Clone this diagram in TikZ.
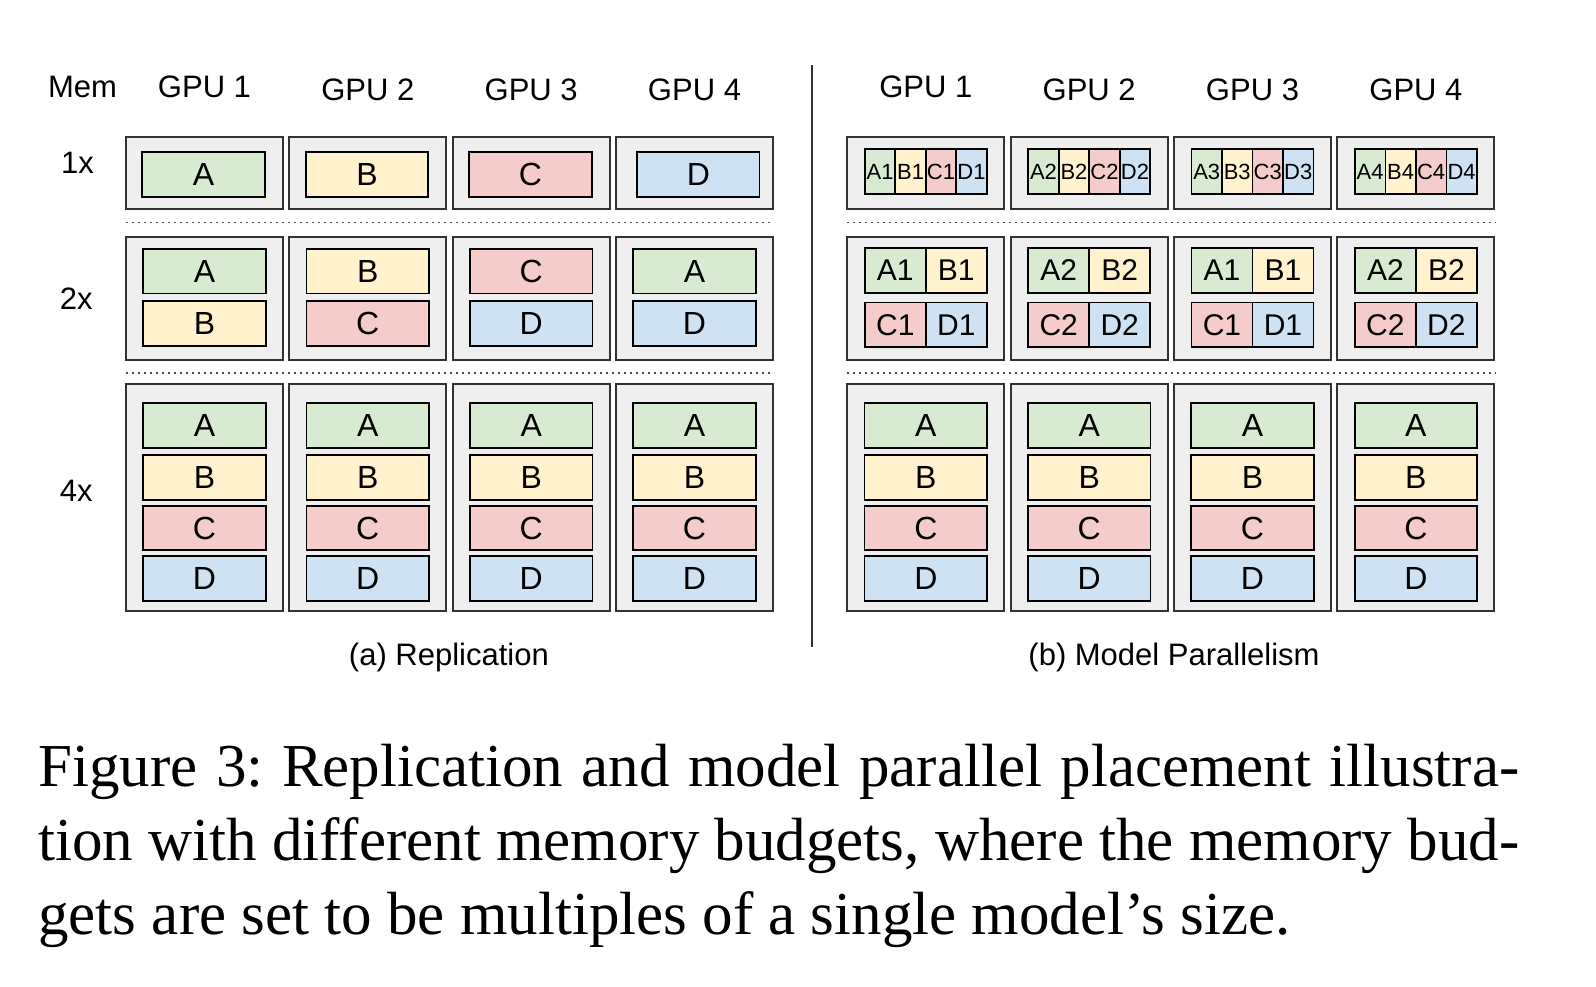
\documentclass[tikz,border=0pt]{standalone}
\usepackage{fontspec}
\setmainfont{Liberation Serif}
\setsansfont{Liberation Sans}
\usetikzlibrary{positioning}
\definecolor{partgreen}{HTML}{D9EAD3}
\definecolor{partyellow}{HTML}{FFF2CC}
\definecolor{partred}{HTML}{F4CCCC}
\definecolor{partblue}{HTML}{CFE2F3}
\definecolor{gpugray}{HTML}{EFEFEF}
\tikzset{
        hdr/.style={font=\sffamily\fontsize{15.5}{18}\selectfont, inner sep=0pt},
        gpu/.style={draw=black!80, fill=gpugray, line width=1pt, minimum width=78.5pt, inner sep=0pt},
        part/.style={draw=black, line width=0.9pt, minimum width=61.25pt, minimum height=22.25pt, inner sep=0pt, font=\sffamily\fontsize{16}{18}\selectfont},
        half/.style={part, minimum width=30.5pt, font=\sffamily\fontsize{15}{18}\selectfont},
        shard/.style={part, minimum width=15.25pt, minimum height=22.5pt, font=\sffamily\fontsize{11}{12}\selectfont},
        pA/.style={fill=partgreen},
        pB/.style={fill=partyellow},
        pC/.style={fill=partred},
        pD/.style={fill=partblue},
        budget/.style={draw=black!70, line width=0.8pt, dash pattern=on 1pt off 2pt},
        divider/.style={draw=black!80, line width=1pt}
          }
\begin{document}
\frenchspacing
\begin{tikzpicture}[x=0.5pt, y=-0.5pt]
        \useasboundingbox (0,0) rectangle (1596,986);
        % column heads
        \node[hdr] (mem) at (82.5,86.5) {Mem};
        \foreach \g/\x/\y in {1/204.5/86.5, 2/367.8/89.6, 3/531.2/89.6, 4/694.5/89.6}
          \node[hdr] (ahead\g) at (\x,\y) {GPU \g};
        \foreach \g/\x/\y in {1/925.8/86.5, 2/1089.2/89.6, 3/1252.5/89.6, 4/1415.9/89.6}
          \node[hdr] (bhead\g) at (\x,\y) {GPU \g};
        \node[hdr] (mem1) at (77.4,163) {1x};
        \node[hdr] (mem2) at (76.3,299) {2x};
        \node[hdr] (mem4) at (76.3,490.6) {4x};
        % (a) replication
        \foreach \g/\x/\p/\q in {1/204.5/A/B, 2/367.8/B/C, 3/531.2/C/D, 4/694.5/A/D} {
          \node[gpu, minimum height=35.85pt] (aone\g) at (\x,173.2) {};
          \node[gpu, minimum height=61.65pt] (atwo\g) at (\x,298.4) {};
          \node[gpu, minimum height=113.2pt] (afour\g) at (\x,497.5) {};
          \node[part, p\p] (atwo\g top) at (\x,271.2) {\p};
          \node[part, p\q] (atwo\g bot) at (\x,323.4) {\q};
          \node[part, pA] (afour\g A) at (\x,425.5) {A};
          \node[part, pB] (afour\g B) at (\x,477.5) {B};
          \node[part, pC] (afour\g C) at (\x,528) {C};
          \node[part, pD] (afour\g D) at (\x,578.5) {D};
        }
        \foreach \g/\p/\dx in {1/A/-0.5pt, 2/B/-0.4pt, 3/C/-0.4pt, 4/D/1.9pt}
          \node[part, p\p] (aone\g p) at ([xshift=\dx, yshift=-0.7pt]aone\g.center) {\p};
        % (b) model parallelism
        \foreach \g/\x/\s in {1/925.8/1, 2/1089.2/2, 3/1252.5/1, 4/1415.9/2} {
          \node[gpu, minimum height=35.85pt] (bone\g) at (\x,173.2) {};
          \node[gpu, minimum height=61.65pt] (btwo\g) at (\x,298.4) {};
          \node[gpu, minimum height=113.2pt] (bfour\g) at (\x,497.5) {};
          \node[shard, pA] (bone\g A) at (\x-45.75,171.5) {A\g};
          \node[shard, pB] (bone\g B) at (\x-15.25,171.5) {B\g};
          \node[shard, pC] (bone\g C) at (\x+15.25,171.5) {C\g};
          \node[shard, pD] (bone\g D) at (\x+45.75,171.5) {D\g};
          \node[half, pA] (btwo\g A) at (\x-30.5,270.5) {A\s};
          \node[half, pB] (btwo\g B) at (\x+30.5,270.5) {B\s};
          \node[half, pC] (btwo\g C) at (\x-30.5,324.7) {C\s};
          \node[half, pD] (btwo\g D) at (\x+30.5,324.7) {D\s};
          \node[part, pA] (bfour\g A) at (\x,425.5) {A};
          \node[part, pB] (bfour\g B) at (\x,477.5) {B};
          \node[part, pC] (bfour\g C) at (\x,528) {C};
          \node[part, pD] (bfour\g D) at (\x,578.5) {D};
        }
        % budget separators
        \coordinate (asepone) at (126,222.3);
        \coordinate (asepfour) at (126,372.7);
        \coordinate (bsepone) at (847.3,222.3);
        \coordinate (bsepfour) at (847.3,372.7);
        \draw[budget] (asepone) -- (asepone -| aone4.east);
        \draw[budget] (asepfour) -- (asepfour -| aone4.east);
        \draw[budget] (bsepone) -- (bsepone -| bone4.east);
        \draw[budget] (bsepfour) -- (bsepfour -| bone4.east);
        \coordinate (divtop) at (811.5,65);
        \coordinate (divbot) at (811.5,647.4);
        \draw[divider] (divtop) -- (divbot);
        % sub captions
        \node[hdr] (capa) at (448.9,657.6) {(a) Replication};
        \node[hdr] (capb) at (1174,657.6) {(b) Model Parallelism};
        \node[anchor=north west, inner sep=0pt, text width=740.5pt, align=justify,
              font=\rmfamily\fontsize{30.5}{37}\selectfont] (figcap) at (38,734.2)
          {\strut Figure 3: Replication and model parallel placement illustra-\linebreak
           tion with different memory budgets, where the memory bud-\linebreak
           gets are set to be multiples of a single model's size.};
\end{tikzpicture}
\end{document}
